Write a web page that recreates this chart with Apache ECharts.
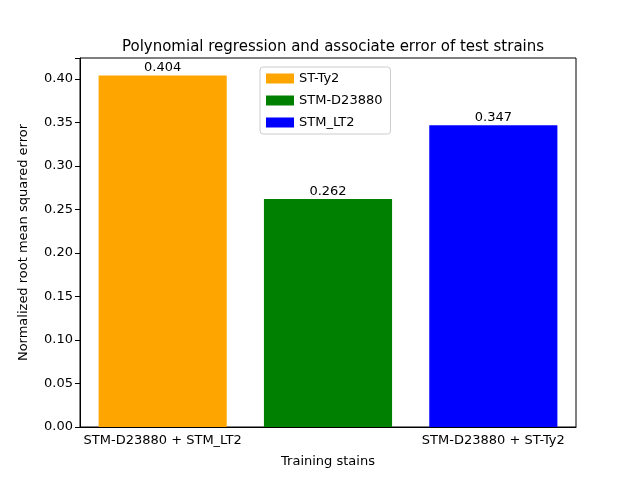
<!DOCTYPE html>
<html>
<head>
<meta charset="utf-8">
<script src="https://cdn.jsdelivr.net/npm/echarts@6/dist/echarts.min.js"></script>
<style>html,body{margin:0;padding:0;background:#fff}</style>
</head>
<body>
<div id="chart" style="width:640px;height:480px"></div>
<script>
// data
const categories = ['STM-D23880 + STM_LT2', 'STM_LT2 + ST-Ty2', 'STM-D23880 + ST-Ty2'];
const seriesNames = ['ST-Ty2', 'STM-D23880', 'STM_LT2'];
const values = [0.404, 0.262, 0.347];
const colors = ['#ffa500', '#008000', '#0000ff'];
const yTicks = [0, 0.05, 0.1, 0.15, 0.2, 0.25, 0.3, 0.35, 0.4];

const font = 'DejaVu Sans';
const chart = echarts.init(document.getElementById('chart'));

const series = seriesNames.map((name, i) => ({
    name: name,
    type: 'bar',
    data: categories.map((c, j) => (j === i ? values[i] : null)),
    barWidth: '77.5%',
    barGap: '-100%',
    itemStyle: { color: colors[i] },
    label: {
        show: true, position: 'top', distance: 1,
        color: '#000', fontFamily: font, fontSize: 13,
        formatter: p => p.value.toFixed(3)
    }
}));

chart.setOption({
    animation: false,
    title: {
        text: 'Polynomial regression and associate error of test strains',
        left: 328, top: 35, textAlign: 'center',
        textStyle: { fontFamily: font, fontSize: 15, fontWeight: 'normal', color: '#000' }
    },
    legend: {
        orient: 'vertical', left: 260, top: 67,
        itemWidth: 28, itemHeight: 10, itemGap: 9,
        padding: [5, 8, 5, 6],
        borderColor: '#ccc', borderWidth: 1, borderRadius: 3,
        backgroundColor: '#fff',
        icon: 'rect',
        textStyle: { fontFamily: font, fontSize: 13, color: '#000' }
    },
    grid: { left: 80, right: 64, top: 58, bottom: 53 },
    xAxis: {
        type: 'category', data: categories,
        name: 'Training stains', nameLocation: 'middle', nameGap: 28,
        nameTextStyle: { fontFamily: font, fontSize: 13, color: '#000' },
        axisLine: { lineStyle: { color: '#000' } },
        axisTick: { alignWithLabel: true, lineStyle: { color: '#000' } },
        axisLabel: { fontFamily: font, fontSize: 13, color: '#000', margin: 7 }
    },
    yAxis: {
        type: 'value', min: 0, max: 0.4242, interval: 0.05,
        name: 'Normalized root mean squared error', nameLocation: 'middle', nameGap: 50,
        nameTextStyle: { fontFamily: font, fontSize: 13, color: '#000' },
        axisLine: { show: true, lineStyle: { color: '#000' } },
        axisTick: { show: true, lineStyle: { color: '#000' } },
        splitLine: { show: false },
        axisLabel: {
            fontFamily: font, fontSize: 13, color: '#000', margin: 7,
            formatter: v => (yTicks.some(t => Math.abs(t - v) < 1e-9) ? v.toFixed(2) : '')
        }
    },
    series: series
});
// close the frame on top and right, as matplotlib does
chart.setOption({
    graphic: [{
        type: 'rect', shape: { x: 80, y: 58, width: 496, height: 369 },
        style: { fill: 'none', stroke: '#000', lineWidth: 1 }, silent: true, z: -1
    }]
});
</script>
</body>
</html>
